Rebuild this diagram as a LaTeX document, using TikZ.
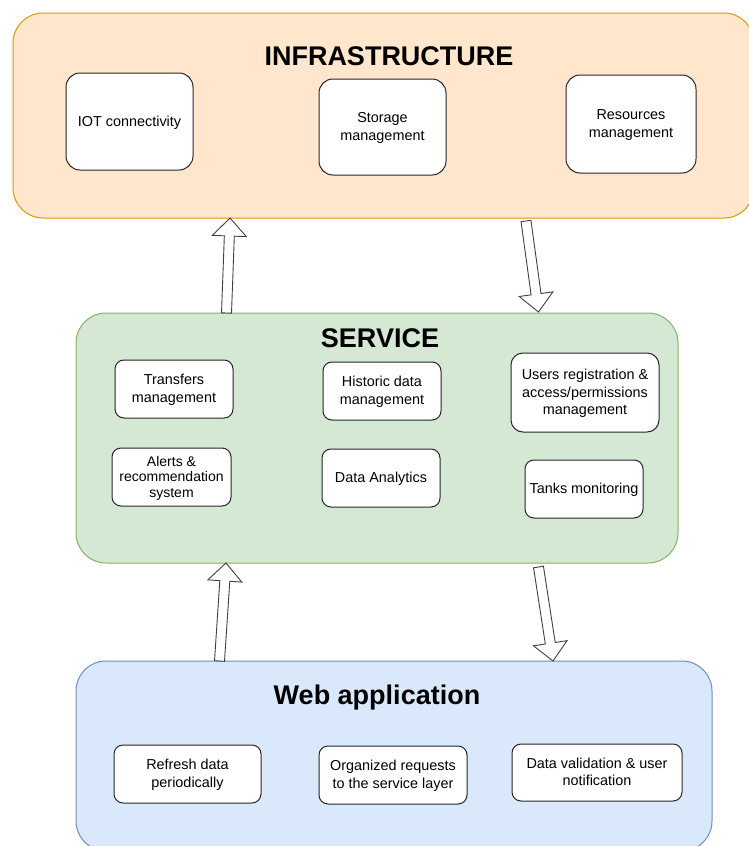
\documentclass[tikz,border=0pt]{standalone}
\usepackage{fontspec}
\setmainfont{Liberation Sans}
\usetikzlibrary{calc,positioning}
\definecolor{infrafill}{HTML}{FFE6CC}
\definecolor{infraline}{HTML}{D79B00}
\definecolor{servicefill}{HTML}{D5E8D4}
\definecolor{serviceline}{HTML}{82B366}
\definecolor{webfill}{HTML}{DAE8FC}
\definecolor{webline}{HTML}{6C8EBF}
% block arrow from tail #1 to tip #2
\newcommand{\blockarrow}[2]{%
  \draw[arrowbody] ($(#1)!5pt!90:(#2)$) -- ($(#2)!18pt!(#1)!5pt!90:(#2)$)
    -- ($(#2)!18pt!(#1)!17pt!90:(#2)$) -- (#2)
    -- ($(#2)!18pt!(#1)!17pt!-90:(#2)$) -- ($(#2)!18pt!(#1)!5pt!-90:(#2)$)
    -- ($(#1)!5pt!-90:(#2)$) -- cycle;}

\begin{document}
\begin{tikzpicture}[x=1pt,y=-1pt,
    layer/.style={draw,line width=1pt,rounded corners=30pt},
    title/.style={font=\fontsize{27}{32}\selectfont\bfseries},
    unit/.style={draw=black!85,fill=white,line width=1pt,rounded corners=9pt,align=center,
      font=\fontsize{14.4}{17.5}\selectfont,inner sep=2pt,text depth=1pt},
    arrowbody/.style={draw=black!75,fill=white,line width=0.9pt,line join=miter}]
    \clip (0,0) rectangle (749,846);

    % Infrastructure
    \node[layer,fill=infrafill,draw=infraline,minimum width=741pt,minimum height=205pt] (infra) at (383.5,115.5) {};
    \node[title] (infratitle) at (389,56) {INFRASTRUCTURE};
    \node[unit,rounded corners=14pt,minimum width=127pt,minimum height=97pt] (iot) at (129.5,121.5) {IOT connectivity};
    \node[unit,rounded corners=14pt,minimum width=127pt,minimum height=96pt] (storage) at (382.5,127) {Storage\\management};
    \node[unit,rounded corners=14pt,minimum width=130pt,minimum height=98pt] (resources) at (631,124) {Resources\\management};

    % Service
    \node[layer,fill=servicefill,draw=serviceline,minimum width=602pt,minimum height=250pt] (service) at (377,438) {};
    \node[title] (servicetitle) at (380,338) {SERVICE};
    \node[unit,minimum width=118pt,minimum height=58pt] (transfers) at (174,389) {Transfers\\management};
    \node[unit,minimum width=118pt,minimum height=58pt] (historic) at (382,391) {Historic data\\management};
    \node[unit,rounded corners=12pt,minimum width=148pt,minimum height=79pt] (users) at (585,392.5) {Users registration \&\\access/permissions\\management};
    \node[unit,minimum width=119pt,minimum height=58pt,font=\fontsize{14}{15.5}\selectfont] (alerts) at (171.5,477) {Alerts \&\\recommendation\\system};
    \node[unit,minimum width=118pt,minimum height=58pt] (analytics) at (381,478) {Data Analytics};
    \node[unit,minimum width=118pt,minimum height=58pt] (tanks) at (584,489) {Tanks monitoring};

    % Web application
    \node[layer,fill=webfill,draw=webline,minimum width=636pt,minimum height=190pt] (webapp) at (394,756) {};
    \node[title] (webtitle) at (377,698) {Web application};
    \node[unit,minimum width=147pt,minimum height=58pt] (refresh) at (187.5,774) {Refresh data\\periodically};
    \node[unit,minimum width=148pt,minimum height=58pt] (requests) at (393,775) {Organized requests\\to the service layer};
    \node[unit,minimum width=170pt,minimum height=57pt] (validation) at (597,772.5) {Data validation \& user\\notification};

    % arrows between the layers
    \coordinate (uponetail) at (226.5,313);
    \coordinate (uponetip) at (230,218);
    \coordinate (downonetail) at (526,221);
    \coordinate (downonetip) at (538.5,312);
    \coordinate (uptwotail) at (219.5,661);
    \coordinate (uptwotip) at (226,563);
    \coordinate (downtwotail) at (538.5,567);
    \coordinate (downtwotip) at (553,661);
    \blockarrow{uponetail}{uponetip}
    \blockarrow{downonetail}{downonetip}
    \blockarrow{uptwotail}{uptwotip}
    \blockarrow{downtwotail}{downtwotip}
\end{tikzpicture}
\end{document}
